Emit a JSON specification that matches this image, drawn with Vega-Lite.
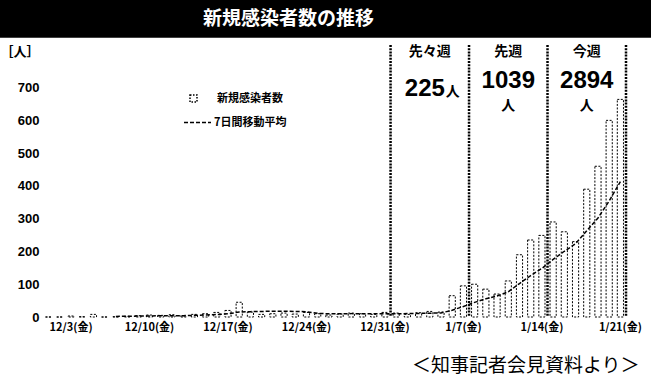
{
  "$schema": "https://vega.github.io/schema/vega-lite/v6.json",
  "width": 651,
  "height": 384,
  "autosize": {"type": "none"},
  "padding": 0,
  "background": "white",
  "config": {
    "view": {"stroke": null},
    "axis": {"grid": false, "ticks": false, "domain": false, "labelColor": "black", "titleColor": "black"},
    "axisY": {"labelOverlap": false}
  },
  "datasets": {
    "daily": [
      {"day": "2021-12-01", "cases": 0, "ma": null},
      {"day": "2021-12-02", "cases": 0, "ma": null},
      {"day": "2021-12-03", "cases": 3, "ma": null},
      {"day": "2021-12-04", "cases": 1, "ma": null},
      {"day": "2021-12-05", "cases": 8, "ma": null},
      {"day": "2021-12-06", "cases": 0, "ma": null},
      {"day": "2021-12-07", "cases": 1, "ma": 1.9},
      {"day": "2021-12-08", "cases": 2, "ma": 2.1},
      {"day": "2021-12-09", "cases": 4, "ma": 2.7},
      {"day": "2021-12-10", "cases": 6, "ma": 3.1},
      {"day": "2021-12-11", "cases": 5, "ma": 3.7},
      {"day": "2021-12-12", "cases": 7, "ma": 3.6},
      {"day": "2021-12-13", "cases": 3, "ma": 4.0},
      {"day": "2021-12-14", "cases": 8, "ma": 5.0},
      {"day": "2021-12-15", "cases": 10, "ma": 6.1},
      {"day": "2021-12-16", "cases": 14, "ma": 7.6},
      {"day": "2021-12-17", "cases": 20, "ma": 9.6},
      {"day": "2021-12-18", "cases": 45, "ma": 15.3},
      {"day": "2021-12-19", "cases": 15, "ma": 16.4},
      {"day": "2021-12-20", "cases": 8, "ma": 17.1},
      {"day": "2021-12-21", "cases": 10, "ma": 17.4},
      {"day": "2021-12-22", "cases": 12, "ma": 17.7},
      {"day": "2021-12-23", "cases": 9, "ma": 17.0},
      {"day": "2021-12-24", "cases": 14, "ma": 16.1},
      {"day": "2021-12-25", "cases": 10, "ma": 11.1},
      {"day": "2021-12-26", "cases": 6, "ma": 9.9},
      {"day": "2021-12-27", "cases": 9, "ma": 10.0},
      {"day": "2021-12-28", "cases": 12, "ma": 10.3},
      {"day": "2021-12-29", "cases": 10, "ma": 10.0},
      {"day": "2021-12-30", "cases": 8, "ma": 9.9},
      {"day": "2021-12-31", "cases": 14, "ma": 9.9},
      {"day": "2022-01-01", "cases": 12, "ma": 10.1},
      {"day": "2022-01-02", "cases": 8, "ma": 10.4},
      {"day": "2022-01-03", "cases": 13, "ma": 11.0},
      {"day": "2022-01-04", "cases": 17, "ma": 11.7},
      {"day": "2022-01-05", "cases": 15, "ma": 12.4},
      {"day": "2022-01-06", "cases": 65, "ma": 20.6},
      {"day": "2022-01-07", "cases": 95, "ma": 32.1},
      {"day": "2022-01-08", "cases": 100, "ma": 44.7},
      {"day": "2022-01-09", "cases": 85, "ma": 55.7},
      {"day": "2022-01-10", "cases": 70, "ma": 63.9},
      {"day": "2022-01-11", "cases": 110, "ma": 77.1},
      {"day": "2022-01-12", "cases": 190, "ma": 102.1},
      {"day": "2022-01-13", "cases": 235, "ma": 126.4},
      {"day": "2022-01-14", "cases": 249, "ma": 148.4},
      {"day": "2022-01-15", "cases": 290, "ma": 175.6},
      {"day": "2022-01-16", "cases": 260, "ma": 200.6},
      {"day": "2022-01-17", "cases": 230, "ma": 223.4},
      {"day": "2022-01-18", "cases": 390, "ma": 263.4},
      {"day": "2022-01-19", "cases": 460, "ma": 302.0},
      {"day": "2022-01-20", "cases": 600, "ma": 354.1},
      {"day": "2022-01-21", "cases": 664, "ma": 413.4}
    ],
    "weeks": [
      {"week": "先々週", "start": "2022-01-01", "mid": "2022-01-04", "end": "2022-01-07", "total": 225},
      {"week": "先週", "start": "2022-01-08", "mid": "2022-01-11", "end": "2022-01-14", "total": 1039},
      {"week": "今週", "start": "2022-01-15", "mid": "2022-01-18", "end": "2022-01-21", "total": 2894}
    ],
    "texts": [
      {"title": "新規感染者数の推移", "note": "＜知事記者会見資料より＞"}
    ]
  },
  "layer": [
    {
      "data": {"name": "daily"},
      "mark": {"type": "bar", "width": {"band": 0.55}, "fill": "white", "strokeWidth": 1, "strokeDash": [2, 1.5]},
      "encoding": {
        "x": {
          "field": "day", "type": "ordinal",
          "scale": {"paddingInner": 0, "paddingOuter": 0, "range": [43, 626]},
          "axis": {
            "values": ["2021-12-03", "2021-12-10", "2021-12-17", "2021-12-24", "2021-12-31", "2022-01-07", "2022-01-14", "2022-01-21"],
            "labelExpr": "toNumber(substring(datum.value, 5, 7)) + '/' + toNumber(substring(datum.value, 8, 10)) + '(金)'",
            "labelFont": "Noto Sans CJK JP", "labelFontWeight": "bold", "labelFontSize": 11,
            "labelPadding": 4, "labelAngle": 0, "labelOverlap": false, "title": null, "offset": -67
          }
        },
        "y": {
          "field": "cases", "type": "quantitative",
          "scale": {"domain": [0, 830], "range": [317, 45], "nice": false},
          "axis": {
            "values": [0, 100, 200, 300, 400, 500, 600, 700],
            "offset": -43,
            "labelOverlap": false,
            "labelFont": "Liberation Sans", "labelFontWeight": "bold", "labelFontSize": 13, "labelPadding": 4,
            "title": "［人］", "titleAngle": 0, "titleAlign": "left", "titleBaseline": "middle",
            "titleX": -43, "titleY": 51, "titleFont": "Noto Sans CJK JP", "titleFontSize": 13, "titleFontWeight": "bold"
          }
        },
        "stroke": {
          "datum": "新規感染者数",
          "scale": {"range": ["black"]},
          "legend": {
            "orient": "none", "legendX": 188, "legendY": 93, "title": null, "padding": 0,
            "symbolType": "square", "symbolSize": 49, "symbolStrokeWidth": 1.5, "symbolDash": [1.5, 1.5], "symbolFillColor": "white",
            "labelFont": "Noto Sans CJK JP", "labelFontWeight": "bold", "labelFontSize": 11, "labelColor": "black", "labelOffset": 18
          }
        }
      }
    },
    {
      "data": {"name": "daily"},
      "mark": {"type": "line", "color": "black", "strokeWidth": 1.5},
      "encoding": {
        "x": {"field": "day", "type": "ordinal"},
        "y": {"field": "ma", "type": "quantitative"},
        "strokeDash": {
          "datum": "7日間移動平均",
          "scale": {"range": [[4, 2]]},
          "legend": {
            "orient": "none", "legendX": 183, "legendY": 108, "title": null, "padding": 0,
            "symbolType": "stroke", "symbolSize": 729, "symbolStrokeWidth": 1.5, "symbolStrokeColor": "black",
            "labelFont": "Noto Sans CJK JP", "labelFontWeight": "bold", "labelFontSize": 11, "labelColor": "black", "labelOffset": 2
          }
        }
      }
    },
    {
      "data": {"name": "weeks"},
      "mark": {"type": "rule", "color": "black", "strokeWidth": 2.5, "strokeDash": [2, 1.2]},
      "encoding": {
        "x": {"field": "start", "type": "ordinal", "bandPosition": 0},
        "y": {"datum": 830, "type": "quantitative"},
        "y2": {"datum": 0}
      }
    },
    {
      "data": {"name": "weeks"},
      "transform": [{"filter": "datum.week === '今週'"}],
      "mark": {"type": "rule", "color": "black", "strokeWidth": 2.5, "strokeDash": [2, 1.2]},
      "encoding": {
        "x": {"field": "end", "type": "ordinal", "bandPosition": 1},
        "y": {"datum": 830, "type": "quantitative"},
        "y2": {"datum": 0}
      }
    },
    {
      "data": {"name": "weeks"},
      "mark": {"type": "text", "font": "Noto Sans CJK JP", "fontWeight": "bold", "fontSize": 14, "color": "black", "baseline": "middle"},
      "encoding": {
        "x": {"field": "mid", "type": "ordinal"},
        "y": {"datum": 810, "type": "quantitative"},
        "text": {"field": "week"}
      }
    },
    {
      "data": {"name": "weeks"},
      "transform": [{"filter": "datum.total > 300"}],
      "mark": {"type": "text", "font": "Liberation Sans", "fontWeight": "bold", "fontSize": 24, "color": "black", "baseline": "middle"},
      "encoding": {
        "x": {"field": "mid", "type": "ordinal"},
        "y": {"datum": 720, "type": "quantitative"},
        "text": {"field": "total"}
      }
    },
    {
      "data": {"name": "weeks"},
      "transform": [{"filter": "datum.total > 300"}],
      "mark": {"type": "text", "font": "Noto Sans CJK JP", "fontWeight": "bold", "fontSize": 14, "color": "black", "baseline": "middle"},
      "encoding": {
        "x": {"field": "mid", "type": "ordinal"},
        "y": {"datum": 643, "type": "quantitative"},
        "text": {"value": "人"}
      }
    },
    {
      "data": {"name": "weeks"},
      "transform": [{"filter": "datum.total < 300"}],
      "mark": {"type": "text", "font": "Liberation Sans", "fontWeight": "bold", "fontSize": 24, "color": "black", "baseline": "middle", "dx": -5},
      "encoding": {
        "x": {"field": "mid", "type": "ordinal"},
        "y": {"datum": 695, "type": "quantitative"},
        "text": {"field": "total"}
      }
    },
    {
      "data": {"name": "weeks"},
      "transform": [{"filter": "datum.total < 300"}],
      "mark": {"type": "text", "font": "Noto Sans CJK JP", "fontWeight": "bold", "fontSize": 14, "color": "black", "baseline": "middle", "dx": 23},
      "encoding": {
        "x": {"field": "mid", "type": "ordinal"},
        "y": {"datum": 688, "type": "quantitative"},
        "text": {"value": "人"}
      }
    },
    {
      "data": {"name": "texts"},
      "mark": {"type": "text", "color": "black", "font": "Noto Sans CJK JP", "fontWeight": "normal", "fontSize": 19, "align": "right", "dx": 314, "baseline": "middle"},
      "encoding": {
        "y": {"datum": -148, "type": "quantitative"},
        "text": {"field": "note"}
      }
    },
    {
      "data": {"name": "texts"},
      "mark": {"type": "rect", "color": "black"},
      "encoding": {
        "x": {"value": 0},
        "x2": {"value": "width"},
        "y": {"datum": 852, "type": "quantitative"},
        "y2": {"datum": 975}
      }
    },
    {
      "data": {"name": "texts"},
      "mark": {"type": "text", "color": "white", "font": "Noto Sans CJK JP", "fontWeight": "bold", "fontSize": 19, "dx": -37, "baseline": "middle"},
      "encoding": {
        "y": {"datum": 910, "type": "quantitative"},
        "text": {"field": "title"}
      }
    }
  ]
}
